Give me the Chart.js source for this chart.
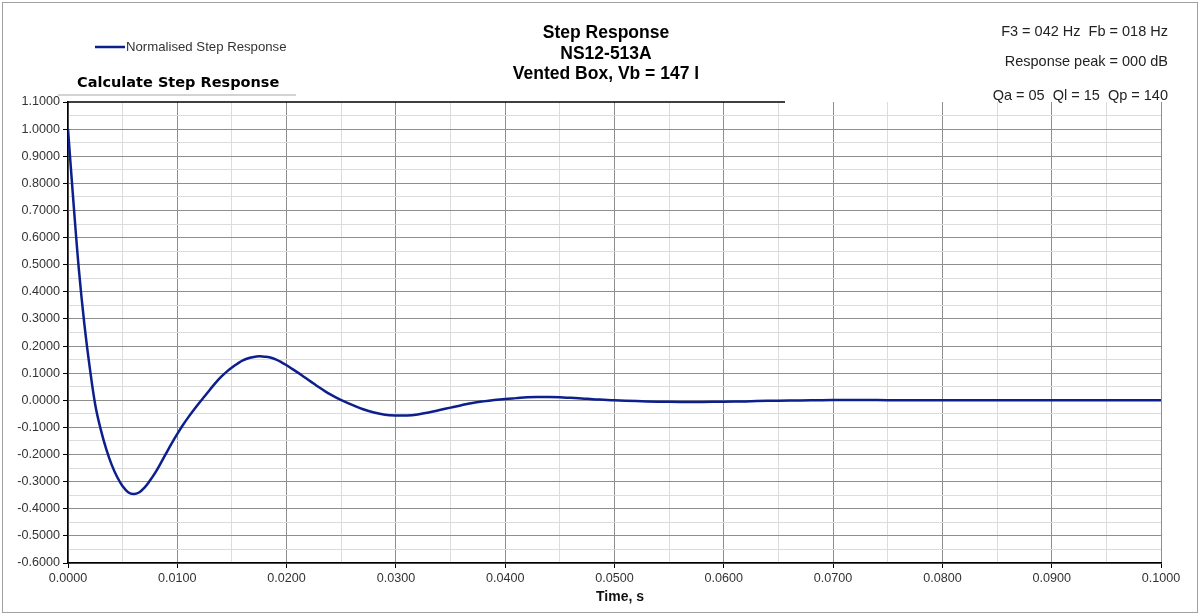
<!DOCTYPE html>
<html>
<head>
<meta charset="utf-8">
<title>Step Response</title>
<script src="https://cdn.jsdelivr.net/npm/chart.js@4.4.1/dist/chart.umd.min.js"></script>
<style>
    html, body { margin: 0; padding: 0; background: #fff; }
    #wrap { width: 1200px; height: 616px; }
</style>
</head>
<body>
<div id="wrap"><canvas id="stepChart" width="1200" height="616"></canvas></div>
<script>
// time axis (s) and normalised step response
const timeValues = [
    0.0000, 0.0005, 0.0010, 0.0015, 0.0020, 0.0025, 0.0030, 0.0035, 0.0040, 0.0045,
    0.0050, 0.0055, 0.0060, 0.0065, 0.0070, 0.0075, 0.0080, 0.0085, 0.0090, 0.0095,
    0.0100, 0.0105, 0.0110, 0.0115, 0.0120, 0.0125, 0.0130, 0.0135, 0.0140, 0.0145,
    0.0150, 0.0155, 0.0160, 0.0165, 0.0170, 0.0175, 0.0180, 0.0185, 0.0190, 0.0195,
    0.0200, 0.0205, 0.0210, 0.0215, 0.0220, 0.0225, 0.0230, 0.0235, 0.0240, 0.0245,
    0.0250, 0.0260, 0.0270, 0.0280, 0.0290, 0.0300, 0.0310, 0.0320, 0.0330, 0.0340,
    0.0350, 0.0360, 0.0370, 0.0380, 0.0390, 0.0400, 0.0410, 0.0420, 0.0430, 0.0440,
    0.0450, 0.0460, 0.0470, 0.0480, 0.0490, 0.0500, 0.0520, 0.0540, 0.0560, 0.0580,
    0.0600, 0.0620, 0.0640, 0.0660, 0.0680, 0.0700, 0.0720, 0.0740, 0.0760, 0.0800,
    0.0850, 0.0900, 0.0950, 0.1000
];
const responseValues = [
    1.000, 0.730, 0.480, 0.280, 0.118, -0.018, -0.108, -0.180, -0.238, -0.283,
    -0.317, -0.339, -0.346, -0.340, -0.322, -0.296, -0.266, -0.231, -0.194, -0.158,
    -0.124, -0.092, -0.063, -0.036, -0.010, 0.015, 0.040, 0.064, 0.086, 0.105,
    0.121, 0.135, 0.147, 0.155, 0.160, 0.162, 0.161, 0.158, 0.151, 0.141,
    0.129, 0.116, 0.103, 0.089, 0.075, 0.061, 0.047, 0.034, 0.022, 0.011,
    0.001, -0.017, -0.033, -0.045, -0.053, -0.056, -0.056, -0.052, -0.045, -0.036,
    -0.027, -0.018, -0.010, -0.004, 0.001, 0.005, 0.008, 0.011, 0.012, 0.012,
    0.011, 0.009, 0.007, 0.004, 0.002, 0.000, -0.003, -0.005, -0.006, -0.006,
    -0.005, -0.004, -0.002, -0.001, 0.000, 0.001, 0.001, 0.001, 0.000, 0.000,
    0.000, 0.000, 0.000, 0.000
];

const seriesLabel = 'Normalised Step Response';
const titleLines = ['Step Response', 'NS12-513A', 'Vented Box, Vb = 147 l'];
const infoLines = ['F3 = 042 Hz  Fb = 018 Hz', 'Response peak = 000 dB', 'Qa = 05  Ql = 15  Qp = 140'];
const sheetTitle = 'Calculate Step Response';
const xAxisTitle = 'Time, s';

const FONT = '"Liberation Sans", Arial, sans-serif';
const MAJOR = '#8e8e8e';
const MINOR = '#dcdcdc';

let points = timeValues.map(function(t, i) { return { x: t, y: responseValues[i] }; });

// true when v sits on a major line (every second minor step)
function isMajor(v, minorPerUnit) {
    return Math.abs(Math.round(v * minorPerUnit)) % 2 === 0;
}

const decorations = {
    id: 'decorations',
    afterDraw: function(chart) {
        const ctx = chart.ctx;
        const area = chart.chartArea;
        ctx.save();

        // outer frame
        ctx.strokeStyle = '#a0a0a0';
        ctx.lineWidth = 1;
        ctx.strokeRect(2.5, 2.5, 1195, 610);

        // black top line over left part of plot
        ctx.strokeStyle = '#000';
        ctx.lineWidth = 1.5;
        ctx.beginPath();
        ctx.moveTo(area.left, area.top);
        ctx.lineTo(785, area.top);
        ctx.stroke();

        // legend
        const ds = chart.data.datasets[0];
        ctx.strokeStyle = ds.borderColor;
        ctx.lineWidth = 2.5;
        ctx.beginPath();
        ctx.moveTo(95, 47);
        ctx.lineTo(125, 47);
        ctx.stroke();
        ctx.fillStyle = '#333';
        ctx.font = '13.2px ' + FONT;
        ctx.textAlign = 'left';
        ctx.textBaseline = 'middle';
        ctx.fillText(ds.label, 126, 47);

        // sheet heading with grey underline
        ctx.fillStyle = '#000';
        ctx.font = 'bold 14.5px "DejaVu Sans", sans-serif';
        ctx.fillText(sheetTitle, 77, 83);
        ctx.strokeStyle = '#c4c4c4';
        ctx.lineWidth = 1.5;
        ctx.beginPath();
        ctx.moveTo(58, 95);
        ctx.lineTo(296, 95);
        ctx.stroke();

        // centred title
        ctx.fillStyle = '#000';
        ctx.font = 'bold 17.5px ' + FONT;
        ctx.textAlign = 'center';
        const titleY = [33, 54, 74.5];
        titleLines.forEach(function(s, i) { ctx.fillText(s, 606, titleY[i]); });

        // right info block
        ctx.fillStyle = '#222';
        ctx.font = '14.5px ' + FONT;
        ctx.textAlign = 'right';
        const infoY = [32, 62, 96];
        infoLines.forEach(function(s, i) { ctx.fillText(s, 1168, infoY[i]); });

        // x axis title
        ctx.fillStyle = '#111';
        ctx.font = 'bold 14px ' + FONT;
        ctx.textAlign = 'center';
        ctx.fillText(xAxisTitle, 620, 597);

        ctx.restore();
    }
};

let stepChart = new Chart(document.getElementById('stepChart'), {
    type: 'line',
    data: {
        datasets: [{
            label: seriesLabel,
            data: points,
            borderColor: '#0c1f8c',
            borderWidth: 2.5,
            pointRadius: 0,
            fill: false,
            tension: 0.4
        }]
    },
    options: {
        responsive: false,
        animation: false,
        devicePixelRatio: 1,
        layout: { padding: { left: 0, right: 39, top: 102, bottom: 0 } },
        plugins: {
            legend: { display: false },
            title: { display: false },
            tooltip: { enabled: false }
        },
        scales: {
            x: {
                type: 'linear',
                min: 0,
                max: 0.1,
                afterFit: function(scale) { scale.height = 53; },
                ticks: {
                    stepSize: 0.005,
                    autoSkip: false,
                    maxRotation: 0,
                    padding: 3,
                    color: '#333',
                    font: { family: FONT, size: 12.6 },
                    callback: function(v) {
                        return isMajor(v, 200) ? v.toFixed(4) : '';
                    }
                },
                grid: {
                    color: function(c) { return isMajor(c.tick.value, 200) ? MAJOR : MINOR; },
                    tickColor: function(c) { return isMajor(c.tick.value, 200) ? '#000' : 'rgba(0,0,0,0)'; },
                    tickLength: 5,
                    lineWidth: 1
                },
                border: { color: '#000', width: 1.5 }
            },
            y: {
                min: -0.6,
                max: 1.1,
                afterFit: function(scale) { scale.width = 68; },
                ticks: {
                    stepSize: 0.05,
                    autoSkip: false,
                    padding: 3,
                    color: '#333',
                    font: { family: FONT, size: 12.6 },
                    callback: function(v) {
                        return isMajor(v, 20) ? v.toFixed(4) : '';
                    }
                },
                grid: {
                    color: function(c) {
                        if (Math.abs(c.tick.value - 1.1) < 1e-6) return 'rgba(0,0,0,0)';
                        return isMajor(c.tick.value, 20) ? MAJOR : MINOR;
                    },
                    tickColor: function(c) { return isMajor(c.tick.value, 20) ? '#000' : 'rgba(0,0,0,0)'; },
                    tickLength: 5,
                    lineWidth: 1
                },
                border: { color: '#000', width: 1.5 }
            }
        }
    },
    plugins: [decorations]
});
</script>
</body>
</html>
